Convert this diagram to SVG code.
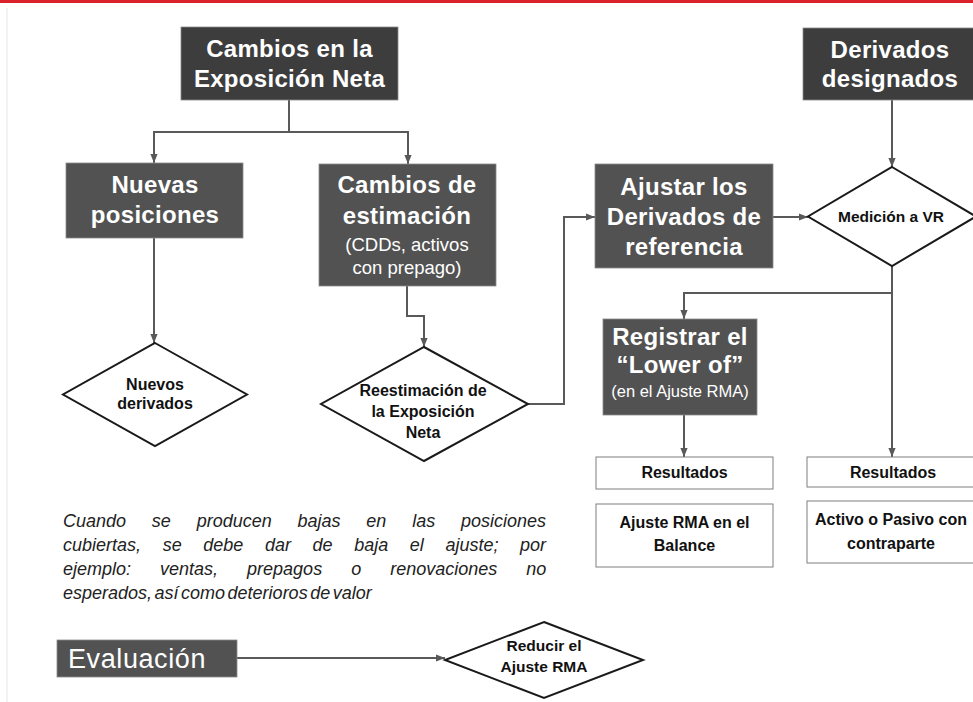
<svg xmlns="http://www.w3.org/2000/svg" width="973" height="702" viewBox="0 0 973 702">
<defs>
<marker id="ah" viewBox="0 0 10 10" refX="10" refY="5" markerWidth="9" markerHeight="9" markerUnits="userSpaceOnUse" orient="auto">
<path d="M0,1 L10,5 L0,9 z" fill="#595959"/>
</marker>
<style>
text{font-family:"Liberation Sans",Arial,sans-serif}
.dk{fill:#3d3d3d;stroke:#8a8a8a;stroke-width:0.8}
.md{fill:#525252;stroke:#8a8a8a;stroke-width:0.8}
.big{font-size:24px;font-weight:bold;fill:#ffffff;text-anchor:middle;letter-spacing:0.3px}
.sub{font-size:18.5px;fill:#ffffff;text-anchor:middle}
.dia{fill:#ffffff;stroke:#1a1a1a;stroke-width:2}
.wb{fill:#ffffff;stroke:#7f7f7f;stroke-width:1}
.sm{font-size:16px;font-weight:bold;fill:#111111;text-anchor:middle}
.con{fill:none;stroke:#595959;stroke-width:2;marker-end:url(#ah)}
.par{font-size:18px;font-style:italic;fill:#222222}
</style>
</defs>
<rect x="0" y="0" width="973" height="702" fill="#ffffff"/>
<rect x="0" y="0" width="973" height="3" fill="#d9222a"/>
<line x1="7" y1="8" x2="7" y2="702" stroke="#e6e6e6" stroke-width="1"/>

<g id="connectors">
<path class="con" d="M289 100 V132 H154 V163"/>
<path class="con" d="M289 100 V132 H408 V164"/>
<path class="con" d="M154 238 V343"/>
<path class="con" d="M407 286 V316 H424 V347"/>
<path class="con" d="M528 404 H564 V217 H595"/>
<path class="con" d="M773 217 H808"/>
<path class="con" d="M892 100 V167"/>
<path class="con" d="M892 266 V293 H684 V319"/>
<path class="con" d="M892 293 V457"/>
<path class="con" d="M684 415 V457"/>
<path class="con" d="M237 658 H445"/>
</g>

<g id="cambios-exposicion">
<rect class="dk" x="181" y="27" width="217" height="73"/>
<text class="big" x="289.5" y="57">Cambios en la</text>
<text class="big" x="289.5" y="87">Exposición Neta</text>
</g>

<g id="derivados-designados">
<rect class="dk" x="803" y="28" width="175" height="72"/>
<text class="big" x="890" y="58">Derivados</text>
<text class="big" x="890" y="87">designados</text>
</g>

<g id="nuevas-posiciones">
<rect class="md" x="66" y="163" width="177" height="75"/>
<text class="big" x="155" y="193">Nuevas</text>
<text class="big" x="155" y="223">posiciones</text>
</g>

<g id="cambios-estimacion">
<rect class="md" x="319" y="164" width="177" height="122"/>
<text class="big" x="407" y="193">Cambios de</text>
<text class="big" x="407" y="224">estimación</text>
<text class="sub" x="407" y="251">(CDDs, activos</text>
<text class="sub" x="407" y="274">con prepago)</text>
</g>

<g id="ajustar-derivados">
<rect class="md" x="595" y="164" width="178" height="104"/>
<text class="big" x="684" y="195">Ajustar los</text>
<text class="big" x="684" y="225">Derivados de</text>
<text class="big" x="684" y="255">referencia</text>
</g>

<g id="medicion-vr">
<polygon class="dia" points="892,167 976,216.5 892,266 808,216.5"/>
<text class="sm" x="891" y="222" style="font-size:15.5px">Medición a VR</text>
</g>

<g id="nuevos-derivados">
<polygon class="dia" points="155,343 247,394.5 155,446 63,394.5"/>
<text class="sm" x="155" y="390">Nuevos</text>
<text class="sm" x="155" y="409">derivados</text>
</g>

<g id="reestimacion">
<polygon class="dia" points="424,347 528,404 424,461 321,404"/>
<text class="sm" x="423" y="396">Reestimación de</text>
<text class="sm" x="423" y="417">la Exposición</text>
<text class="sm" x="423" y="438">Neta</text>
</g>

<g id="registrar-lower-of">
<rect class="md" x="603" y="319" width="154" height="96"/>
<text class="big" x="680" y="345">Registrar el</text>
<text class="big" x="680" y="373">“Lower of”</text>
<text class="sub" x="680" y="397" style="font-size:16.5px">(en el Ajuste RMA)</text>
</g>

<g id="resultados-1">
<rect class="wb" x="596" y="457" width="177" height="32"/>
<text class="sm" x="684.5" y="478">Resultados</text>
</g>

<g id="ajuste-balance">
<rect class="wb" x="596" y="504" width="177" height="63"/>
<text class="sm" x="684.5" y="528">Ajuste RMA en el</text>
<text class="sm" x="684.5" y="551">Balance</text>
</g>

<g id="resultados-2">
<rect class="wb" x="807" y="457" width="175" height="30"/>
<text class="sm" x="893" y="478">Resultados</text>
</g>

<g id="activo-pasivo">
<rect class="wb" x="807" y="501" width="175" height="62"/>
<text class="sm" x="891" y="525">Activo o Pasivo con</text>
<text class="sm" x="891" y="549">contraparte</text>
</g>

<g id="nota">
<text class="par" x="63" y="527" word-spacing="20.8">Cuando se producen bajas en las posiciones</text>
<text class="par" x="63" y="551" word-spacing="16.6">cubiertas, se debe dar de baja el ajuste; por</text>
<text class="par" x="63" y="575" word-spacing="24">ejemplo: ventas, prepagos o renovaciones no</text>
<text class="par" x="63" y="599" word-spacing="-2.5">esperados, así como deterioros de valor</text>
</g>

<g id="evaluacion">
<rect class="md" x="57" y="640" width="180" height="37"/>
<text class="big" x="137" y="668" style="font-weight:normal;font-size:27px;letter-spacing:0.6px">Evaluación</text>
</g>

<g id="reducir-ajuste">
<polygon class="dia" points="544,622 643,660 544,698 445,660"/>
<text class="sm" x="544" y="651" style="font-size:15.5px">Reducir el</text>
<text class="sm" x="544" y="672" style="font-size:15.5px">Ajuste RMA</text>
</g>
</svg>
